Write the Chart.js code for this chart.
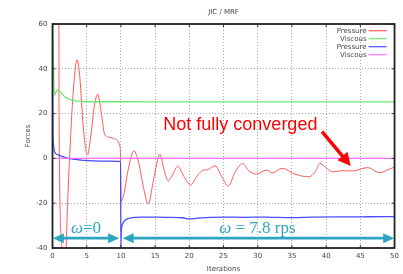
<!DOCTYPE html>
<html><head><meta charset="utf-8">
<script src="https://cdn.jsdelivr.net/npm/chart.js@4.4.0/dist/chart.umd.min.js"></script>
<style>html,body{margin:0;padding:0;background:#fff}#wrap{width:403px;height:274px;position:relative}</style>
</head><body><div id="wrap"><canvas id="c"></canvas></div>
<script>
const chartTitle = 'JIC / MRF';
const xAxisTitle = 'Iterations';
const yAxisTitle = 'Forces';
const iterTicks = [0, 5, 10, 15, 20, 25, 30, 35, 40, 45, 50];
const forceTicks = [-40, -20, 0, 20, 40, 60];
const seriesNames = ['Pressure', 'Viscous', 'Pressure', 'Viscous'];

const redPressureIter = [0.9, 0.97, 1.4, 1.75, 2.0, 2.7, 3.2, 3.6, 4.0, 4.5, 5.1, 5.6, 6.1, 6.6, 7.1, 7.6, 8.2, 8.8, 9.4, 9.8, 9.95,
  10.0, 10.5, 11.0, 11.9, 12.6, 13.3, 14.0, 14.8, 15.7, 16.3, 16.9, 17.6, 18.3, 19.2, 20.2, 21.1, 21.9, 22.7, 23.8, 24.7, 25.7,
  26.7, 27.8, 28.7, 29.8, 31.3, 32.1, 33.6, 35.4, 37.5, 38.4, 39.1, 40.1, 41.0, 42.4, 43.9, 46.1, 47.8, 49.8, 50];
const redPressureForce = [150, 12.7, -40, -75, -40, 12.7, 36, 44, 36, 14, 1.5, 10, 23, 28.7, 21, 11, 9.5, 9, 8.3, 6, 0,
  -19.3, -15, -6, 3.4, -2, -13, -20.4, -9, 1.8, -5, -10, -7, -3.5, -8, -11.9, -8, -5.5, -5, -3.3, -8, -12.3,
  -6, -2.3, -5.5, -7, -5.2, -6.5, -4.4, -7, -8.2, -6, -2.2, -4.5, -6, -5.5, -5.6, -4.1, -6.4, -4.1, -4];

const greenViscousIter = [0, 0.12, 0.3, 0.55, 0.8, 1.2, 1.8, 2.5, 3.3, 4.3, 6, 10, 20, 30, 40, 50];
const greenViscousForce = [80, 45, 28.3, 29.8, 30.8, 29.5, 27.5, 26.4, 25.7, 25.4, 25.3, 25.3, 25.2, 25.2, 25.2, 25.2];

const bluePressureIter = [0, 0.04, 0.12, 0.3, 0.8, 1.5, 2.3, 3.0, 4.2, 6.0, 8.0, 9.95, 10.0, 10.05, 10.2, 10.5, 10.8, 11.3, 12, 13,
  15, 17, 19, 20, 21, 23, 25, 28, 31, 35, 38, 42, 45, 48, 50];
const bluePressureForce = [51.5, 13, 6.7, 3.0, 1.6, 0.8, 0, -0.3, -0.8, -1.1, -1.2, -1.3, -40, -33, -29.7, -28, -27.2, -26.7, -26.3, -26.2,
  -26.2, -26.3, -26.5, -27, -26.8, -26.3, -26.2, -26.3, -26.2, -26.4, -26.2, -26.1, -26.1, -26.0, -26.0];

const magentaViscousIter = [0, 10, 20, 30, 40, 50];
const magentaViscousForce = [0, 0, 0, 0, 0, 0];

const noteText = 'Not fully converged';
const notePos = [16.2, 12.6];
const noteArrow = [[39.4, 12.0], [43.6, -3.4]];
const phaseOmega = ['\u03c9', '\u03c9'];
const phaseRest = ['=0', ' = 7.8 rps'];
const phaseRanges = [[0.05, 9.75], [10.25, 49.95]];
const phaseArrowForce = -35.6;
const phaseLabelForce = -33.2;

const colors = ['#ff5a5a', '#6fe86f', '#4a4aff', '#ff70ff'];
const widths = [1, 1.3, 1.3, 1.4];

function pts(xs, ys) { return xs.map((v, i) => ({x: v, y: ys[i]})); }

const datasets = [
  pts(redPressureIter, redPressureForce),
  pts(greenViscousIter, greenViscousForce),
  pts(bluePressureIter, bluePressureForce),
  pts(magentaViscousIter, magentaViscousForce)
].map((d, i) => ({
  label: seriesNames[i], data: d, borderColor: colors[i], backgroundColor: colors[i],
  borderWidth: widths[i], pointRadius: 0, cubicInterpolationMode: 'monotone', order: 4 - i, fill: false
}));

const tickFont = {family: 'DejaVu Sans', size: 7};
const textGray = '#444';

function arrowHead(ctx, x1, y1, x2, y2, len, half) {
  const a = Math.atan2(y2 - y1, x2 - x1);
  ctx.beginPath();
  ctx.moveTo(x2, y2);
  ctx.lineTo(x2 - len * Math.cos(a) + half * Math.sin(a), y2 - len * Math.sin(a) - half * Math.cos(a));
  ctx.lineTo(x2 - len * Math.cos(a) - half * Math.sin(a), y2 - len * Math.sin(a) + half * Math.cos(a));
  ctx.closePath();
  ctx.fill();
}

const decor = {
  id: 'decor',
  afterDatasetsDraw(chart) {
    const {ctx, chartArea: a, scales: {x, y}} = chart;
    ctx.save();
    ctx.strokeStyle = '#333';
    ctx.lineWidth = 1;
    ctx.beginPath();
    x.ticks.forEach(t => {
      const px = x.getPixelForValue(t.value);
      ctx.moveTo(px, a.top); ctx.lineTo(px, a.top + 3);
      ctx.moveTo(px, a.bottom); ctx.lineTo(px, a.bottom - 3);
    });
    y.ticks.forEach(t => {
      const py = y.getPixelForValue(t.value);
      ctx.moveTo(a.left, py); ctx.lineTo(a.left + 3, py);
      ctx.moveTo(a.right, py); ctx.lineTo(a.right - 3, py);
    });
    ctx.stroke();
    ctx.lineWidth = 1.8;
    ctx.strokeStyle = '#222';
    ctx.strokeRect(a.left, a.top, a.right - a.left, a.bottom - a.top);
    ctx.restore();
  },
  afterDraw(chart) {
    const {ctx, chartArea: a, scales: {x, y}} = chart;
    ctx.save();
    // title
    ctx.font = '7px "DejaVu Sans"';
    ctx.fillStyle = textGray;
    ctx.textAlign = 'center';
    ctx.textBaseline = 'middle';
    ctx.fillText(chartTitle, (a.left + a.right) / 2, 12.5);
    // legend
    ctx.textAlign = 'right';
    chart.data.datasets.forEach((ds, i) => {
      const ry = a.top + 6.7 + 8 * i;
      ctx.fillStyle = textGray;
      ctx.fillText(ds.label, a.right - 28, ry);
      ctx.strokeStyle = ds.borderColor;
      ctx.lineWidth = 1.2;
      ctx.beginPath(); ctx.moveTo(a.right - 26, ry); ctx.lineTo(a.right - 8, ry); ctx.stroke();
    });
    // red note
    ctx.fillStyle = '#ff0000';
    ctx.strokeStyle = '#ff0000';
    ctx.font = '18px "Liberation Sans"';
    ctx.textAlign = 'left';
    ctx.textBaseline = 'alphabetic';
    ctx.fillText(noteText, x.getPixelForValue(notePos[0]), y.getPixelForValue(notePos[1]));
    const ax1 = x.getPixelForValue(noteArrow[0][0]), ay1 = y.getPixelForValue(noteArrow[0][1]);
    const ax2 = x.getPixelForValue(noteArrow[1][0]), ay2 = y.getPixelForValue(noteArrow[1][1]);
    const ang = Math.atan2(ay2 - ay1, ax2 - ax1);
    ctx.lineWidth = 3.5;
    ctx.beginPath(); ctx.moveTo(ax1, ay1); ctx.lineTo(ax2 - 10 * Math.cos(ang), ay2 - 10 * Math.sin(ang)); ctx.stroke();
    arrowHead(ctx, ax1, ay1, ax2, ay2, 13, 6.5);
    // phase arrows
    const teal = '#2ca5c2';
    ctx.fillStyle = teal; ctx.strokeStyle = teal;
    const ayp = y.getPixelForValue(phaseArrowForce);
    const lyp = y.getPixelForValue(phaseLabelForce);
    phaseRanges.forEach((r, i) => {
      const l = x.getPixelForValue(r[0]), rr = x.getPixelForValue(r[1]);
      ctx.lineWidth = 2.8;
      ctx.beginPath(); ctx.moveTo(l + 8, ayp); ctx.lineTo(rr - 8, ayp); ctx.stroke();
      arrowHead(ctx, rr, ayp, l, ayp, 11, 5);
      arrowHead(ctx, l, ayp, rr, ayp, 11, 5);
      const fo = 'italic 17px "Liberation Serif"', fr = '17px "Liberation Serif"';
      ctx.font = fo; const w1 = ctx.measureText(phaseOmega[i]).width;
      ctx.font = fr; const w2 = ctx.measureText(phaseRest[i]).width;
      const cx = (l + rr) / 2 + (i === 0 ? 0 : -1);
      const sx = cx - (w1 + w2) / 2;
      ctx.textAlign = 'left';
      ctx.font = fo; ctx.fillText(phaseOmega[i], sx, lyp);
      ctx.font = fr; ctx.fillText(phaseRest[i], sx + w1, lyp);
    });
    ctx.restore();
  }
};

new Chart(document.getElementById('c'), {
  type: 'line',
  data: {datasets},
  plugins: [decor],
  options: {
    responsive: true, maintainAspectRatio: false, animation: false, devicePixelRatio: 1,
    layout: {padding: {top: 24, right: 8, left: 0, bottom: 0}},
    plugins: {legend: {display: false}, title: {display: false}, tooltip: {enabled: false}},
    scales: {
      x: {
        type: 'linear', min: iterTicks[0], max: iterTicks[iterTicks.length - 1],
        afterBuildTicks: s => { s.ticks = iterTicks.map(v => ({value: v})); },
        afterFit: s => { s.height = 26; },
        ticks: {font: tickFont, color: textGray, padding: 4, maxRotation: 0},
        grid: {color: '#a8a8a8', lineWidth: 1, drawTicks: false},
        border: {display: false, dash: [1, 2]},
        title: {display: true, text: xAxisTitle, font: tickFont, color: textGray, padding: {top: 0, bottom: 1}}
      },
      y: {
        type: 'linear', min: forceTicks[0], max: forceTicks[forceTicks.length - 1],
        afterBuildTicks: s => { s.ticks = forceTicks.map(v => ({value: v})); },
        afterFit: s => { s.width = 52.5; },
        ticks: {font: tickFont, color: textGray, padding: 5},
        grid: {color: '#a8a8a8', lineWidth: 1, drawTicks: false},
        border: {display: false, dash: [1, 2]},
        title: {display: true, text: yAxisTitle, font: tickFont, color: textGray, padding: {top: 24, bottom: 0}}
      }
    }
  }
});
</script></body></html>
